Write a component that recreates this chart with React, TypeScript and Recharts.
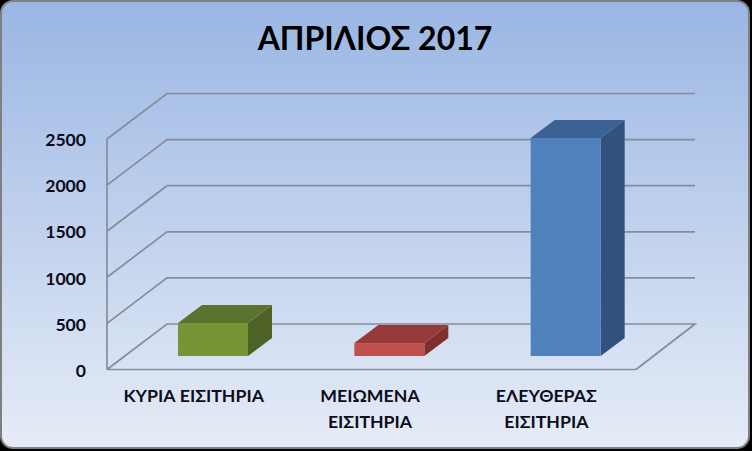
import { BarChart, Bar, XAxis, YAxis, CartesianGrid } from 'recharts';

const categories = ['ΚΥΡΙΑ ΕΙΣΙΤΗΡΙΑ', 'ΜΕΙΩΜΕΝΑ ΕΙΣΙΤΗΡΙΑ', 'ΕΛΕΥΘΕΡΑΣ ΕΙΣΙΤΗΡΙΑ'];
const categoryLines = [['ΚΥΡΙΑ ΕΙΣΙΤΗΡΙΑ'], ['ΜΕΙΩΜΕΝΑ', 'ΕΙΣΙΤΗΡΙΑ'], ['ΕΛΕΥΘΕΡΑΣ', 'ΕΙΣΙΤΗΡΙΑ']];
const values = [358, 140, 2365];
const yTicks = [0, 500, 1000, 1500, 2000, 2500];

const frontColors = ['#779537', '#c0504d', '#4f81bd'];
const sideColors = ['#4e6127', '#7f302e', '#30527c'];
const topColors = ['#5c7330', '#953a38', '#3b6292'];

const chartData = categories.map((name, i) => ({ name, value: values[i], idx: i }));

const FONT = 'Lato, "Open Sans", sans-serif';
const GRID = '#868d9a';
const DEPTH_X = 60;
const DEPTH_Y = 45.5;

// back wall + side wall line for each gridline, the zero line closes the floor instead
function WallLine(props: any) {
  const { x1, x2, y1 } = props;
  const isFloor = Math.abs(y1 - 369.5) < 1;
  const pts = [
    [x1, y1],
    [x1 + DEPTH_X, y1 - DEPTH_Y],
    [x2 + DEPTH_X - 1, y1 - DEPTH_Y],
  ];
  if (isFloor) pts.push([x2, y1]);
  return (
    <polyline
      points={pts.map(p => p.join(',')).join(' ')}
      fill="none"
      stroke={GRID}
      strokeWidth={1.7}
    />
  );
}

// 3D box, sits half way into the floor depth
function Box3D(props: any) {
  const { x, y, width, height, payload } = props;
  const i = payload.idx;
  const sx = x + 18;
  const sy = y - 13.5;
  const dx = 24;
  const dy = 18;
  const r = sx + width;
  const b = sy + height;
  return (
    <g>
      <polygon points={`${r},${sy} ${r + dx},${sy - dy} ${r + dx},${b - dy} ${r},${b}`} fill={sideColors[i]} />
      <polygon points={`${sx},${sy} ${sx + dx},${sy - dy} ${r + dx},${sy - dy} ${r},${sy}`} fill={topColors[i]} />
      <rect x={sx} y={sy} width={width} height={height} fill={frontColors[i]} />
    </g>
  );
}

function CategoryTick(props: any) {
  const { x, payload } = props;
  const lines = categoryLines[payload.index];
  return (
    <text x={x - 1.5} y={402} textAnchor="middle" fontFamily={FONT} fontWeight={700} fontSize={17.7} fill="#0d0d1a">
      {lines.map((l, j) => (
        <tspan key={l} x={x - 1.5} dy={j === 0 ? 0 : 26}>
          {l}
        </tspan>
      ))}
    </text>
  );
}

export default function App() {
  return (
    <div style={{ position: 'absolute', left: 0, top: 0, width: 752, height: 451, background: '#000', overflow: 'hidden' }}>
      <div
        style={{
          position: 'absolute',
          left: 0,
          top: 0,
          width: 750,
          height: 449,
          boxSizing: 'border-box',
          borderRadius: 13,
          border: '2px solid #7f7f7f',
          background: 'linear-gradient(180deg, #9ab6e3 0%, #e6ecf7 100%)',
        }}
      />
      <div style={{ position: 'absolute', left: 0, top: 0 }}>
        <BarChart width={752} height={451} data={chartData} margin={{ top: 139, right: 116, bottom: 0, left: 0 }} barSize={70}>
          <CartesianGrid horizontal={WallLine} vertical={false} />
          <XAxis
            dataKey="name"
            height={81.5}
            interval={0}
            tick={CategoryTick}
            tickLine={false}
            axisLine={{ stroke: GRID, strokeWidth: 1.7 }}
          />
          <YAxis
            width={107}
            domain={[0, 2500]}
            ticks={yTicks}
            tickLine={false}
            tickMargin={15}
            axisLine={{ stroke: GRID, strokeWidth: 1.7 }}
            tick={{ fontFamily: FONT, fontWeight: 700, fontSize: 17.6, fill: '#0d0d1a', dy: 1 }}
          />
          <Bar dataKey="value" shape={Box3D} isAnimationActive={false} />
          <text x={375} y={50} textAnchor="middle" fontFamily={FONT} fontWeight={700} fontSize={32} fill="#000">
            ΑΠΡΙΛΙΟΣ 2017
          </text>
        </BarChart>
      </div>
    </div>
  );
}
